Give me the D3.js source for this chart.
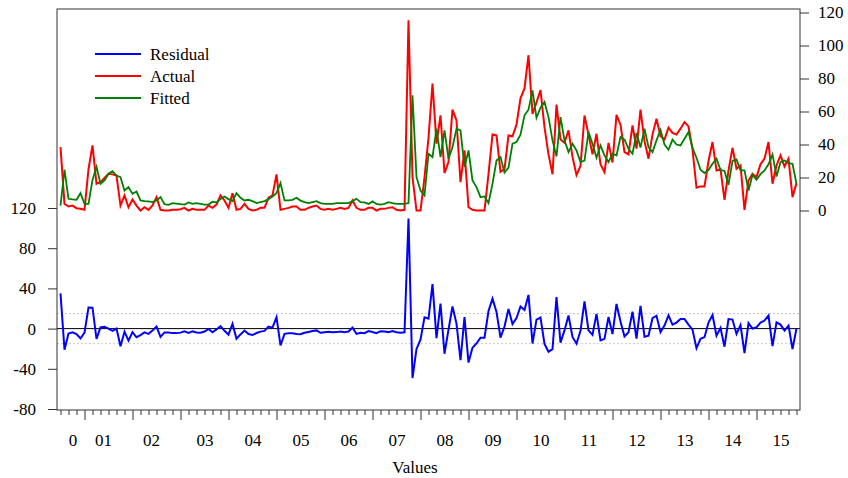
<!DOCTYPE html>
<html>
<head>
<meta charset="utf-8">
<script src="https://cdn.jsdelivr.net/npm/d3@7"></script>
<style>
  body { margin: 0; background: #fff; }
  svg text { font-family: "Liberation Serif", "Times New Roman", serif; fill: #000; }
</style>
</head>
<body>
<div id="chart"></div>
<script>
// monthly observations, Jul 2000 .. Nov 2015
const actual = [
  38.4,4.0,2.4,3.0,1.4,1.0,0.4,25.0,39.5,16.2,
  17.2,19.8,22.3,21.9,21.2,3.0,9.1,2.0,6.7,3.0,
  0.0,2.0,0.4,3.0,8.1,0.4,0.0,0.0,0.4,0.4,
  0.8,1.6,0.0,1.0,0.4,0.4,0.4,3.0,1.6,3.6,
  9.1,6.1,1.6,10.5,0.4,1.0,4.0,1.0,0.0,0.4,
  1.6,1.6,7.7,9.1,21.9,0.4,1.0,1.6,2.4,2.4,
  0.5,0.4,1.6,2.4,3.0,1.0,0.4,1.0,0.4,1.0,
  1.6,1.0,1.6,6.1,1.6,0.4,0.4,1.6,1.6,0.0,
  1.0,1.0,1.6,2.0,0.4,0.0,0.4,115.3,20.2,0.0,
  0.0,20.0,44.0,77.0,40.5,57.7,22.7,29.3,61.1,54.6,
  17.2,36.4,2.0,0.4,0.0,0.0,0.0,22.0,46.1,45.5,
  23.5,25.0,45.5,45.0,52.0,68.0,74.0,94.1,58.5,65.5,
  73.0,50.5,34.0,22.0,64.2,43.0,41.0,48.6,32.5,21.5,
  27.0,57.6,46.0,34.0,46.5,28.0,23.2,41.0,29.1,58.0,
  52.0,35.4,34.0,51.6,37.5,61.1,42.0,31.4,46.0,55.6,
  45.0,43.0,50.2,47.0,46.0,49.6,53.6,51.0,37.0,13.8,
  14.6,14.6,30.0,41.5,24.3,25.0,6.5,24.3,38.0,25.3,
  27.3,0.4,18.2,22.3,20.2,28.0,31.4,41.5,16.2,27.3,
  33.4,26.7,31.4,8.1,16.6
];
const fitted = [
  3.0,24.7,7.1,6.7,6.5,10.5,4.0,4.0,18.5,26.5,
  16.2,18.2,22.3,23.9,21.2,20.2,12.1,14.2,10.1,11.5,
  6.1,5.7,5.5,5.1,6.1,8.1,3.8,3.4,4.5,4.2,
  3.8,3.6,4.9,4.0,4.5,4.0,3.6,3.6,5.3,4.9,
  6.9,8.5,6.9,5.7,10.5,7.7,6.1,6.5,5.7,4.5,
  5.1,5.7,6.9,8.5,10.5,16.6,6.1,6.1,6.5,7.7,
  6.0,5.1,4.5,5.1,5.7,4.5,4.0,4.0,4.0,4.5,
  4.5,4.5,4.5,5.7,7.1,5.1,4.9,4.0,5.5,4.0,
  3.6,4.0,5.1,4.5,4.0,4.0,4.0,4.5,69.8,20.2,
  12.1,9.1,34.4,32.4,49.6,32.4,48.6,31.4,38.4,49.6,
  48.6,26.3,36.4,18.2,14.2,8.1,8.5,4.5,16.2,30.3,
  32.4,23.0,26.0,40.5,41.5,46.0,57.7,61.1,72.8,56.2,
  62.3,65.8,56.6,42.5,32.8,56.6,42.5,35.4,40.5,36.4,
  29.3,30.3,47.5,40.5,32.0,39.5,33.4,29.3,34.4,33.4,
  44.5,42.9,37.4,34.4,47.0,38.1,49.6,38.4,35.4,42.5,
  48.9,40.0,36.8,43.0,40.0,39.4,43.5,47.5,38.0,32.0,
  24.7,22.7,24.5,28.3,31.4,24.5,24.0,15.5,30.0,31.0,
  24.3,24.3,12.1,21.5,18.6,22.0,24.3,28.0,34.0,20.6,
  29.3,30.3,28.7,28.3,16.2
];
const residual = [
  35.0,-21.0,-5.0,-3.7,-5.5,-9.8,-4.0,21.0,20.8,-10.3,
  1.2,1.8,0.0,-2.3,0.0,-17.5,-3.0,-12.0,-3.5,-8.6,
  -6.5,-3.7,-5.2,-2.0,2.0,-8.2,-3.8,-4.0,-4.5,-4.5,
  -4.0,-2.7,-4.3,-2.8,-3.8,-4.2,-2.9,-0.4,-3.7,-0.8,
  2.5,-2.2,-6.0,4.8,-10.0,-5.8,-2.0,-5.4,-6.4,-4.4,
  -3.0,-2.3,2.0,1.0,11.4,-16.8,-5.2,-4.6,-4.7,-5.3,
  -5.5,-4.2,-3.3,-2.4,-1.8,-4.2,-3.7,-3.2,-3.6,-3.5,
  -2.8,-3.5,-2.9,1.0,-5.3,-4.2,-4.5,-2.4,-3.4,-4.5,
  -2.6,-3.0,-3.5,-2.5,-3.6,-4.0,-3.6,109.5,-49.2,-20.2,
  -11.0,11.2,9.8,44.3,-9.5,24.8,-25.0,-1.0,22.0,5.0,
  -31.3,11.5,-33.8,-19.0,-14.8,-9.0,-9.0,17.5,29.8,16.5,
  -9.0,2.0,19.5,4.5,10.5,22.0,18.5,33.5,-14.8,9.0,
  11.0,-15.3,-23.0,-20.5,31.3,-14.0,-1.8,13.0,-8.3,-15.0,
  -2.2,27.2,-1.8,-6.2,14.6,-11.7,-10.2,11.5,-5.5,24.5,
  7.0,-7.8,-3.6,16.8,-10.0,22.5,-8.0,-7.0,10.3,12.8,
  -3.5,3.0,13.2,4.0,6.0,9.5,9.5,4.0,-1.0,-19.5,
  -10.2,-8.5,6.0,13.5,-7.0,0.7,-18.0,9.5,9.0,-5.3,
  3.5,-24.5,5.5,0.0,1.3,6.0,8.0,13.0,-17.5,6.3,
  4.0,-2.0,3.0,-20.3,0.2
];
const residStd = 15;
const yearLabels = ["0","01","02","03","04","05","06","07","08","09","10","11","12","13","14","15"];
const leftTicks = [-80, -40, 0, 40, 80, 120];
const rightTicks = [0, 20, 40, 60, 80, 100, 120];
const legendNames = ["Residual", "Actual", "Fitted"];
const colors = ["#0000ff", "#ff0000", "#008000"];

const width = 848, height = 478;
const frame = { left: 57, right: 800, top: 9, bottom: 410 };
const firstMonth = 6; // series starts in July, so January sits 6 obs in

const svg = d3.select("#chart").append("svg").attr("width", width).attr("height", height);

const x = d3.scaleLinear().domain([0, actual.length - 1]).range([60.5, 796.5]);
const yRes = d3.scaleLinear().domain([-80, 120]).range([409, 208]);
const yAct = d3.scaleLinear().domain([0, 120]).range([210.5, 12.5]);

svg.append("clipPath").attr("id", "clip").append("rect")
    .attr("x", frame.left).attr("y", frame.top)
    .attr("width", frame.right - frame.left).attr("height", frame.bottom - frame.top);

// +/- one std band and zero line for residuals
svg.selectAll("line.band").data([residStd, -residStd]).join("line")
    .attr("class", "band")
    .attr("x1", frame.left).attr("x2", frame.right)
    .attr("y1", d => yRes(d)).attr("y2", d => yRes(d))
    .attr("stroke", "#c8c8c8").attr("stroke-dasharray", "2,2");
svg.append("line")
    .attr("x1", frame.left).attr("x2", frame.right)
    .attr("y1", yRes(0)).attr("y2", yRes(0))
    .attr("stroke", "#000");

const plot = svg.append("g").attr("clip-path", "url(#clip)");
const lineRes = d3.line().x((d, i) => x(i)).y(d => yRes(d));
const lineAct = d3.line().x((d, i) => x(i)).y(d => yAct(d));

plot.append("path").datum(residual).attr("d", lineRes)
    .attr("fill", "none").attr("stroke", colors[0]).attr("stroke-width", 2);
plot.append("path").datum(actual).attr("d", lineAct)
    .attr("fill", "none").attr("stroke", colors[1]).attr("stroke-width", 2);
plot.append("path").datum(fitted).attr("d", lineAct)
    .attr("fill", "none").attr("stroke", colors[2]).attr("stroke-width", 1.8);

// frame
svg.append("rect")
    .attr("x", frame.left).attr("y", frame.top)
    .attr("width", frame.right - frame.left).attr("height", frame.bottom - frame.top)
    .attr("fill", "none").attr("stroke", "#333");

const plainNum = d => String(d); // hyphen minus, like the original

// left axis (residual)
const gl = svg.append("g").attr("transform", `translate(${frame.left},0)`)
    .call(d3.axisLeft(yRes).tickValues(leftTicks).tickSize(9).tickPadding(12).tickFormat(plainNum));
// right axis (actual / fitted)
const gr = svg.append("g").attr("transform", `translate(${frame.right},0)`)
    .call(d3.axisRight(yAct).tickValues(rightTicks).tickSize(9).tickPadding(9).tickFormat(plainNum));

// bottom: minor ticks every 2 months, longer ticks at January
const idx = d3.range(actual.length);
const minorIdx = idx.filter(i => i % 2 === 0 && (i - firstMonth) % 12 !== 0);
const majorIdx = idx.filter(i => (i - firstMonth) % 12 === 0);
const gb1 = svg.append("g").attr("transform", `translate(0,${frame.bottom})`)
    .call(d3.axisBottom(x).tickValues(minorIdx).tickSize(5).tickFormat(""));
const gb2 = svg.append("g").attr("transform", `translate(0,${frame.bottom})`)
    .call(d3.axisBottom(x).tickValues(majorIdx).tickSize(10).tickFormat(""));
// year labels near July of each year (first ones nudged left as in the original)
const labelIdx = yearLabels.map((d, k) => k === 0 ? 3 : k === 1 ? 10.6 : k === 2 ? 22.6 : 12 * k);
const gb3 = svg.append("g").attr("transform", `translate(0,${frame.bottom})`)
    .call(d3.axisBottom(x).tickValues(labelIdx).tickSize(0).tickPadding(24)
        .tickFormat((d, k) => yearLabels[k]));

[gl, gr, gb1, gb2, gb3].forEach(g => {
    g.select(".domain").remove();
    g.selectAll("line").attr("stroke", "#333");
    g.selectAll("text").style("font-size", "17px").attr("fill", "#000");
});
gb3.selectAll("line").remove();

svg.append("text").attr("x", 415).attr("y", 473)
    .attr("text-anchor", "middle").style("font-size", "17px").text("Values");

// legend
const legend = svg.append("g").attr("transform", "translate(95,54)");
legendNames.forEach((name, k) => {
    const row = legend.append("g").attr("transform", `translate(0,${k * 22})`);
    row.append("line").attr("x1", 0).attr("x2", 46).attr("y1", 0).attr("y2", 0)
        .attr("stroke", colors[k]).attr("stroke-width", k === 2 ? 1.8 : 2.2);
    row.append("text").attr("x", 55).attr("y", 6).style("font-size", "17px").text(name);
});
</script>
</body>
</html>
